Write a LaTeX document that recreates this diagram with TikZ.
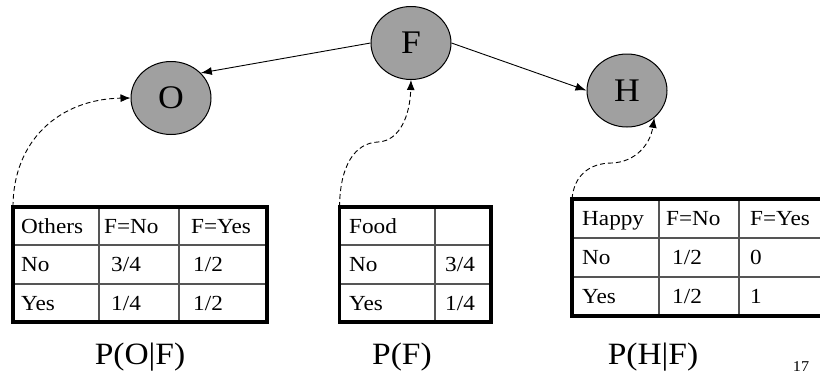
\documentclass[tikz,border=0pt]{standalone}
\usepackage{fontspec}
\setmainfont{Liberation Serif}[FakeStretch=1.08]
\usetikzlibrary{arrows.meta,shapes.geometric}
\definecolor{nodefill}{RGB}{160,160,160}
\definecolor{gridline}{RGB}{85,85,85}

\begin{document}
\begin{tikzpicture}[x=1pt,y=-1pt,
  var/.style={ellipse,draw=black,line width=1pt,fill=nodefill,
    minimum width=80pt,minimum height=73pt,inner sep=0pt,
    font=\fontsize{33}{33}\selectfont},
  link/.style={-{Latex[length=11pt,width=8pt]},line width=0.9pt},
  cptlink/.style={-{Latex[length=10pt,width=8pt]},
    dash pattern=on 5pt off 3pt,line width=0.9pt},
  cptbox/.style={rectangle,inner sep=0pt,outer sep=0pt},
  cptframe/.style={line width=3.6pt},
  cell/.style={anchor=base west,inner sep=0pt,
    font=\fontsize{21.5}{24}\selectfont},
  gridrule/.style={draw=gridline,line width=1.3pt},
  caption/.style={anchor=base,inner sep=0pt,
    font=\fontsize{31}{31}\selectfont}]

\clip (0,0) rectangle (820,373);

% Bayesian network: Food -> Others, Food -> Happy
\node[var] (O) at (171,98) {O};
\node[var] (F) at (411,43) {F};
\node[var] (H) at (627,90.5) {H};

\draw[link] (F.west) -- (O.40);
\draw[link] (F.east) -- (H.west);

% Table P(O|F)
\node[cptbox,minimum width=254pt,minimum height=115pt] (T1) at (140,264.5) {};
\draw[gridrule] (99,207) -- (99,322) (179,207) -- (179,322)
  (13,245) -- (267,245) (13,284) -- (267,284);
\draw[cptframe] (T1.north west) rectangle (T1.south east);
\node[cell] (t1h1) at (21,233) {Others};
\node[cell] (t1h2) at (104,233) {F=No};
\node[cell] (t1h3) at (191,233) {F=Yes};
\node[cell] (t1r1) at (21,271.5) {No};
\node[cell] (t1v11) at (111,271.5) {3/4};
\node[cell] (t1v12) at (193,271.5) {1/2};
\node[cell] (t1r2) at (21,310) {Yes};
\node[cell] (t1v21) at (111,310) {1/4};
\node[cell] (t1v22) at (193,310) {1/2};

% Table P(F)
\node[cptbox,minimum width=151.5pt,minimum height=115pt] (T2) at (415.25,264.5) {};
\draw[gridrule] (435,207) -- (435,322)
  (339.5,245) -- (491,245) (339.5,284) -- (491,284);
\draw[cptframe] (T2.north west) rectangle (T2.south east);
\node[cell] (t2h1) at (349,233) {Food};
\node[cell] (t2r1) at (349,271.5) {No};
\node[cell] (t2v1) at (445,271.5) {3/4};
\node[cell] (t2r2) at (349,310) {Yes};
\node[cell] (t2v2) at (445,310) {1/4};

% Table P(H|F)
\node[cptbox,minimum width=268pt,minimum height=117pt] (T3) at (706,257.5) {};
\draw[gridrule] (659,199) -- (659,316) (739,199) -- (739,316)
  (572,238) -- (840,238) (572,277) -- (840,277);
\draw[cptframe] (T3.north west) rectangle (T3.south east);
\node[cell] (t3h1) at (582,225.5) {Happy};
\node[cell] (t3h2) at (666,225.5) {F=No};
\node[cell] (t3h3) at (750,225.5) {F=Yes};
\node[cell] (t3r1) at (582,264.5) {No};
\node[cell] (t3v11) at (672,264.5) {1/2};
\node[cell] (t3v12) at (750,264.5) {0};
\node[cell] (t3r2) at (582,303.5) {Yes};
\node[cell] (t3v21) at (672,303.5) {1/2};
\node[cell] (t3v22) at (750,303.5) {1};

% Dashed links from each table to its variable
\draw[cptlink] (T1.north west) .. controls (13,140) and (60,99) .. (O.west);
\draw[cptlink] (T2.north west) .. controls (340,165) and (355,143) .. (378,142)
  .. controls (400,141) and (410,115) .. (F.south);
\draw[cptlink] (T3.north west) .. controls (574,175) and (590,163) .. (612,163)
  .. controls (635,162) and (650,145) .. (H.-45);

% Captions
\node[caption] (c1) at (140,364) {P(O|F)};
\node[caption] (c2) at (402,364) {P(F)};
\node[caption] (c3) at (653,364) {P(H|F)};
\node[anchor=base,inner sep=0pt,font=\fontsize{15}{15}\selectfont] (pg) at (801,371) {17};
\end{tikzpicture}
\end{document}
